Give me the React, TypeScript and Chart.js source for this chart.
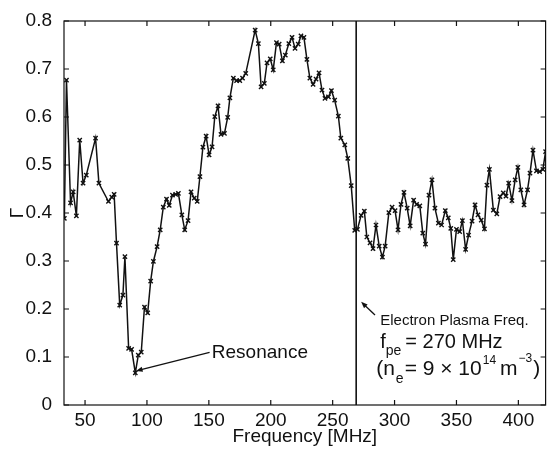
import React, { useEffect, useRef } from 'react';
import { Chart, registerables } from 'chart.js';

Chart.register(...registerables);

// Frequency (MHz) of each measured point
const FREQ_MHZ = [
  33.3, 35.0, 38.3, 40.4, 43.0, 45.7, 48.4, 51.0, 58.5, 61.2,
  68.9, 71.6, 73.5, 75.4, 78.0, 80.6, 82.2, 85.2, 87.6, 90.6,
  93.0, 95.4, 98.0, 100.6, 103.0, 105.2, 108.2, 110.7, 113.2, 115.8,
  118.0, 120.6, 123.2, 125.4, 128.2, 130.5, 133.2, 135.6, 138.2, 140.6,
  142.8, 145.2, 147.8, 150.2, 152.6, 154.8, 157.4, 159.8, 162.6, 165.2,
  167.0, 169.8, 172.4, 175.0, 177.2, 179.8, 187.4, 190.0, 192.2, 194.8,
  197.0, 199.6, 202.0, 204.6, 206.8, 209.4, 211.8, 214.6, 217.2, 219.6,
  222.2, 224.4, 226.8, 229.2, 231.6, 234.2, 236.6, 239.0, 241.4, 243.8,
  246.6, 249.0, 251.6, 254.6, 256.6, 259.8, 262.2, 265.0, 267.8, 270.0,
  273.0, 275.6, 277.6, 280.2, 282.6, 285.0, 287.6, 290.2, 292.4, 295.4,
  298.0, 300.4, 302.8, 305.2, 307.6, 310.2, 312.6, 315.4, 317.8, 320.4,
  322.8, 325.0, 327.8, 330.2, 332.6, 335.4, 338.0, 341.0, 343.4, 345.4,
  347.4, 350.0, 352.6, 354.8, 357.4, 359.8, 362.6, 365.0, 367.4, 370.0,
  372.6, 374.6, 376.6, 379.8, 382.6, 385.2, 387.8, 390.0, 392.2, 394.8,
  397.4, 399.6, 402.0, 404.6, 407.4, 409.4, 411.8, 414.6, 417.2, 419.8,
  422.0,
];

// Reflection coefficient magnitude (Gamma) at each frequency
const GAMMA = [
  0.389, 0.677, 0.421, 0.444, 0.394, 0.552, 0.462, 0.479, 0.556, 0.462,
  0.424, 0.433, 0.439, 0.337, 0.208, 0.229, 0.309, 0.118, 0.116, 0.067,
  0.104, 0.110, 0.204, 0.192, 0.258, 0.299, 0.330, 0.365, 0.412, 0.429,
  0.416, 0.437, 0.439, 0.441, 0.396, 0.365, 0.384, 0.444, 0.431, 0.424,
  0.476, 0.537, 0.560, 0.521, 0.538, 0.601, 0.623, 0.564, 0.566, 0.599,
  0.640, 0.681, 0.676, 0.676, 0.681, 0.691, 0.781, 0.753, 0.663, 0.670,
  0.713, 0.721, 0.698, 0.755, 0.752, 0.717, 0.729, 0.753, 0.766, 0.743,
  0.752, 0.769, 0.766, 0.720, 0.681, 0.668, 0.679, 0.692, 0.656, 0.639,
  0.642, 0.655, 0.635, 0.602, 0.556, 0.542, 0.514, 0.457, 0.364, 0.366,
  0.395, 0.404, 0.350, 0.338, 0.326, 0.375, 0.331, 0.308, 0.331, 0.401,
  0.412, 0.405, 0.365, 0.418, 0.443, 0.410, 0.373, 0.427, 0.418, 0.415,
  0.358, 0.335, 0.437, 0.469, 0.410, 0.379, 0.375, 0.405, 0.390, 0.368,
  0.303, 0.366, 0.361, 0.384, 0.324, 0.354, 0.383, 0.417, 0.396, 0.385,
  0.367, 0.458, 0.491, 0.406, 0.398, 0.434, 0.442, 0.435, 0.462, 0.426,
  0.469, 0.495, 0.448, 0.417, 0.448, 0.483, 0.531, 0.488, 0.486, 0.491,
  0.528,
];

const X_TICKS = [50, 100, 150, 200, 250, 300, 350, 400];
const Y_TICKS = [0, 0.1, 0.2, 0.3, 0.4, 0.5, 0.6, 0.7, 0.8];
const X_MIN = 33;
const X_MAX = 422;
const Y_MIN = 0;
const Y_MAX = 0.8;

const PLASMA_FREQ = 269;
const RESONANCE_FREQ = 90.6;
const RESONANCE_GAMMA = 0.067;

const FONT_FAMILY = '"Liberation Sans", Arial, Helvetica, sans-serif';
const INK = '#111';

function arrow(ctx: CanvasRenderingContext2D, x1: number, y1: number, x2: number, y2: number) {
  const ang = Math.atan2(y2 - y1, x2 - x1);
  const head = 7;
  const wing = 0.38;
  ctx.beginPath();
  ctx.moveTo(x1, y1);
  ctx.lineTo(x2 - Math.cos(ang) * head * 0.6, y2 - Math.sin(ang) * head * 0.6);
  ctx.stroke();
  ctx.beginPath();
  ctx.moveTo(x2, y2);
  ctx.lineTo(x2 - head * Math.cos(ang - wing), y2 - head * Math.sin(ang - wing));
  ctx.lineTo(x2 - head * Math.cos(ang + wing), y2 - head * Math.sin(ang + wing));
  ctx.closePath();
  ctx.fill();
}

type Piece = { text: string; size: number; dy: number; gap: number };

function drawPieces(ctx: CanvasRenderingContext2D, x0: number, y0: number, pieces: Piece[]) {
  let x = x0;
  for (const p of pieces) {
    x += p.gap;
    ctx.font = `${p.size}px ${FONT_FAMILY}`;
    ctx.fillText(p.text, x, y0 + p.dy);
    x += ctx.measureText(p.text).width;
  }
}

const framePlugin = {
  id: 'matlabFrame',
  afterDatasetsDraw(chart: any) {
    const { ctx, chartArea: a, scales } = chart;
    const x = scales.x;
    const y = scales.y;
    ctx.save();
    ctx.strokeStyle = INK;
    ctx.fillStyle = INK;
    ctx.lineWidth = 1.2;
    ctx.strokeRect(a.left, a.top, a.right - a.left, a.bottom - a.top);

    const TL = 5;
    ctx.beginPath();
    for (const v of X_TICKS) {
      const px = x.getPixelForValue(v);
      ctx.moveTo(px, a.bottom);
      ctx.lineTo(px, a.bottom - TL);
      ctx.moveTo(px, a.top);
      ctx.lineTo(px, a.top + TL);
    }
    for (const v of Y_TICKS) {
      const py = y.getPixelForValue(v);
      ctx.moveTo(a.left, py);
      ctx.lineTo(a.left + TL, py);
      ctx.moveTo(a.right, py);
      ctx.lineTo(a.right - TL, py);
    }
    ctx.stroke();

    // electron plasma frequency marker
    const lx = x.getPixelForValue(PLASMA_FREQ);
    ctx.lineWidth = 1.6;
    ctx.beginPath();
    ctx.moveTo(lx, a.top);
    ctx.lineTo(lx, a.bottom);
    ctx.stroke();

    ctx.lineWidth = 1.3;
    // plasma arrow
    arrow(ctx, x.getPixelForValue(284.2), y.getPixelForValue(0.1875), x.getPixelForValue(273.0), y.getPixelForValue(0.215));
    // resonance arrow
    arrow(ctx, x.getPixelForValue(150.6), y.getPixelForValue(0.1098), x.getPixelForValue(RESONANCE_FREQ + 0.6), y.getPixelForValue(RESONANCE_GAMMA + 0.004));

    ctx.textAlign = 'left';
    ctx.textBaseline = 'alphabetic';
    ctx.font = `19px ${FONT_FAMILY}`;
    ctx.fillText('Resonance', x.getPixelForValue(152.4), y.getPixelForValue(0.0973));

    const ax = x.getPixelForValue(288.4);
    const ay = y.getPixelForValue(0.1667);
    drawPieces(ctx, ax, ay, [{ text: 'Electron Plasma Freq.', size: 15, dy: 0, gap: 0 }]);
    drawPieces(ctx, ax, ay, [
      { text: 'f', size: 20, dy: 23.3, gap: 0 },
      { text: 'pe', size: 14, dy: 30, gap: 0 },
      { text: '= 270 MHz', size: 20, dy: 23.3, gap: 4 },
    ]);
    drawPieces(ctx, ax - 4, ay, [
      { text: '(n', size: 21, dy: 50, gap: 0 },
      { text: 'e', size: 14, dy: 58, gap: 1 },
      { text: '= 9 \u00d7 10', size: 21, dy: 50, gap: 1 },
      { text: '14', size: 12, dy: 39, gap: 1 },
      { text: 'm', size: 21, dy: 50, gap: 4 },
      { text: '\u22123', size: 12, dy: 37, gap: 1 },
      { text: ')', size: 21, dy: 50, gap: 1 },
    ]);
    ctx.restore();
  },
};

export default function App() {
  const ref = useRef<HTMLCanvasElement | null>(null);

  useEffect(() => {
    if (!ref.current) return;
    const font = { family: FONT_FAMILY, size: 19 };
    const chart = new Chart(ref.current, {
      type: 'line',
      data: {
        datasets: [
          {
            data: FREQ_MHZ.map((f, i) => ({ x: f, y: GAMMA[i] })),
            borderColor: INK,
            borderWidth: 1.5,
            pointStyle: 'crossRot',
            pointRadius: 3,
            pointBorderWidth: 1.4,
            pointBorderColor: INK,
            pointBackgroundColor: INK,
            tension: 0,
            fill: false,
          },
        ],
      },
      options: {
        responsive: false,
        animation: false,
        devicePixelRatio: 1,
        layout: { padding: { top: 21, right: 1, left: 0, bottom: 0 } },
        plugins: { legend: { display: false }, tooltip: { enabled: false } },
        scales: {
          x: {
            type: 'linear',
            min: X_MIN,
            max: X_MAX,
            grid: { display: false },
            border: { display: false },
            afterBuildTicks: (s: any) => {
              s.ticks = X_TICKS.map((v) => ({ value: v }));
            },
            afterFit: (s: any) => {
              s.height = 46;
            },
            ticks: { color: INK, font, padding: -4, maxRotation: 0, autoSkip: false },
            title: {
              display: true,
              text: 'Frequency [MHz]',
              color: INK,
              font,
              padding: { top: 0, bottom: 3 },
            },
          },
          y: {
            type: 'linear',
            min: Y_MIN,
            max: Y_MAX,
            grid: { display: false },
            border: { display: false },
            afterBuildTicks: (s: any) => {
              s.ticks = Y_TICKS.map((v) => ({ value: v }));
            },
            afterFit: (s: any) => {
              s.width = 64;
            },
            ticks: {
              color: INK,
              font,
              padding: 4,
              autoSkip: false,
              callback: (v: any) => (Number(v) === 0 ? '0' : Number(v).toFixed(1)),
            },
            title: {
              display: true,
              text: '\u0393',
              color: INK,
              font,
              padding: { top: 6, bottom: 0 },
            },
          },
        },
      },
      plugins: [framePlugin],
    } as any);
    return () => chart.destroy();
  }, []);

  return (
    <div style={{ position: 'fixed', left: 0, top: 0, width: 551, height: 451, background: '#fff' }}>
      <canvas ref={ref} width={551} height={451} style={{ display: 'block' }} />
    </div>
  );
}
